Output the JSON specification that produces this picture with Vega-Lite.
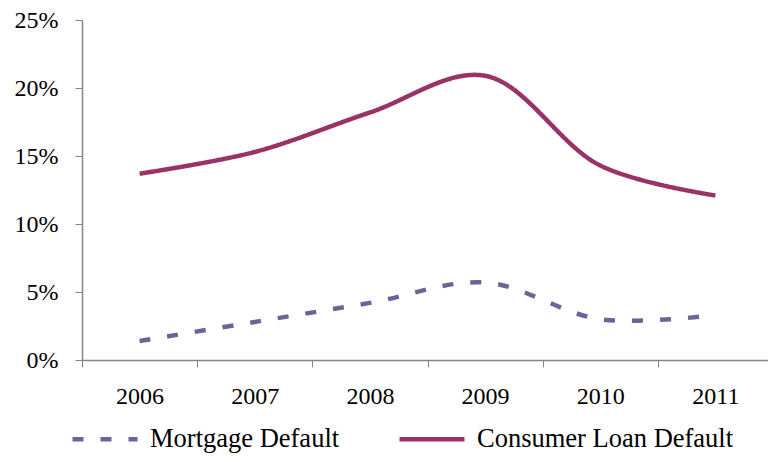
{
  "$schema": "https://vega.github.io/schema/vega-lite/v6.json",
  "width": 691,
  "height": 340,
  "padding": {"left": 82, "top": 20, "right": 0, "bottom": 99},
  "autosize": {"type": "none"},
  "background": "white",
  "config": {
    "view": {"stroke": null},
    "font": "Times New Roman, Liberation Serif, serif",
    "axis": {"labelFont": "Times New Roman, Liberation Serif, serif", "labelFontSize": 24, "labelColor": "black", "domainColor": "#868686", "tickColor": "#868686", "grid": false}
  },
  "data": {
    "values": [
      {"year": "2006", "series": "Mortgage Default", "value": 0.014},
      {"year": "2007", "series": "Mortgage Default", "value": 0.028},
      {"year": "2008", "series": "Mortgage Default", "value": 0.042},
      {"year": "2009", "series": "Mortgage Default", "value": 0.057},
      {"year": "2010", "series": "Mortgage Default", "value": 0.030},
      {"year": "2011", "series": "Mortgage Default", "value": 0.033},
      {"year": "2006", "series": "Consumer Loan Default", "value": 0.137},
      {"year": "2007", "series": "Consumer Loan Default", "value": 0.153},
      {"year": "2008", "series": "Consumer Loan Default", "value": 0.182},
      {"year": "2009", "series": "Consumer Loan Default", "value": 0.209},
      {"year": "2010", "series": "Consumer Loan Default", "value": 0.143},
      {"year": "2011", "series": "Consumer Loan Default", "value": 0.121}
    ]
  },
  "mark": {"type": "line", "interpolate": "catmull-rom", "strokeWidth": 4.5},
  "encoding": {
    "x": {
      "field": "year", "type": "ordinal", "bandPosition": 0.5,
      "scale": {"type": "band", "paddingInner": 0, "paddingOuter": 0},
      "axis": {"title": null, "labelAngle": 0, "tickBand": "extent", "tickSize": 7, "labelPadding": 17, "domainWidth": 1.5}
    },
    "y": {
      "field": "value", "type": "quantitative",
      "scale": {"domain": [0, 0.25], "nice": false},
      "axis": {"title": null, "values": [0, 0.05, 0.1, 0.15, 0.2, 0.25], "format": ".0%", "tickSize": 7, "labelPadding": 17, "domainWidth": 1.5}
    },
    "color": {
      "field": "series", "type": "nominal",
      "scale": {"domain": ["Mortgage Default", "Consumer Loan Default"], "range": ["#666699", "#993366"]},
      "legend": {
        "title": null, "orient": "none", "legendX": -12, "legendY": 384, "direction": "horizontal",
        "symbolType": "stroke", "symbolSize": 4225, "symbolStrokeWidth": 4.5,
        "labelFont": "Times New Roman, Liberation Serif, serif", "labelFontSize": 26.5, "labelColor": "black", "labelOffset": 10, "columnPadding": 50, "labelLimit": 400
      }
    },
    "strokeDash": {
      "field": "series", "type": "nominal",
      "scale": {"domain": ["Mortgage Default", "Consumer Loan Default"], "range": [[11, 17], [1, 0]]},
      "legend": null
    }
  }
}
